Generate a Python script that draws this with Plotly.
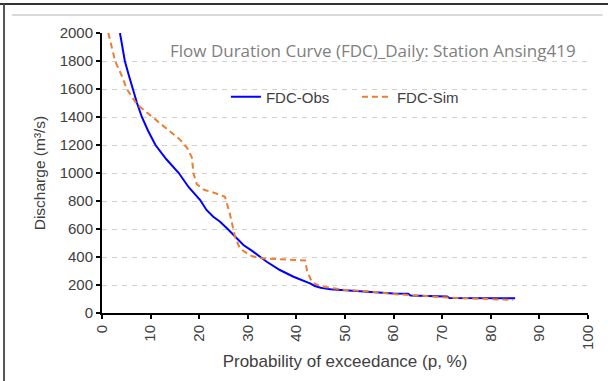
import plotly.graph_objects as go

# Observed flow duration curve
p_obs = [3.7, 4.7, 5.5, 6.3, 7.2, 8.2, 9.5, 11.0, 13.2, 15.8, 17.8, 20.2, 21.5, 22.9, 24.3, 25.7,
         27.0, 29.1, 31.1, 33.9, 36.6, 39.4, 42.8, 43.8, 45, 47, 50, 53, 57, 60, 63, 63.5,
         67, 71, 71.5, 78, 85]
q_obs = [2000, 1800, 1700, 1600, 1500, 1400, 1300, 1200, 1100, 1000, 900, 807, 736, 688, 652, 605,
         557, 486, 438, 366, 307, 259, 212, 193, 180, 170, 162, 155, 145, 140, 138, 125,
         122, 118, 107, 105, 105]

# Simulated flow duration curve
p_sim = [1.3, 2.7, 4.0, 5.1, 7.2, 10.3, 13.4, 16, 17.5, 18.5, 18.8, 19.5, 21, 23, 25.3,
         26.3, 27.4, 28.4, 30.5, 33, 36, 39, 41.8, 42.2, 43.2, 45, 50, 55, 60, 65, 70, 75, 80, 84.6]
q_sim = [2000, 1800, 1700, 1600, 1490, 1400, 1310, 1240, 1180, 1110, 1000, 920, 880, 860, 830,
         710, 540, 460, 410, 390, 385, 380, 375, 300, 220, 190, 165, 155, 135, 125, 112, 105, 100, 93]

x_ticks = list(range(0, 101, 10))
y_ticks = list(range(0, 2001, 200))

title_text = "Flow Duration Curve (FDC)_Daily: Station Ansing419"

fig = go.Figure()
fig.add_trace(go.Scatter(x=p_obs, y=q_obs, mode="lines", name="FDC-Obs",
                         line=dict(color="#0000FF", width=2)))
fig.add_trace(go.Scatter(x=p_sim, y=q_sim, mode="lines", name="FDC-Sim",
                         line=dict(color="#ED7D31", width=2, dash="6px,4px")))

base_font = "Liberation Sans, Arial, sans-serif"

fig.update_layout(
    width=608, height=381,
    margin=dict(l=102, r=20, t=33, b=68),
    paper_bgcolor="white", plot_bgcolor="white",
    font=dict(family=base_font, size=15, color="#404040"),
    showlegend=True,
    legend=dict(orientation="h", x=0.255, y=0.771, xanchor="left", yanchor="middle",
                bgcolor="rgba(0,0,0,0)", font=dict(family=base_font, size=15, color="#404040"),
                entrywidth=86, itemwidth=30),
    xaxis=dict(range=[0, 100], tickvals=x_ticks, ticktext=[str(v) for v in x_ticks],
               tickangle=-90, showgrid=False, zeroline=False,
               showline=True, linecolor="black", linewidth=2,
               ticks="outside", ticklen=4, tickcolor="black", tickwidth=1.5,
               tickfont=dict(size=15),
               title=dict(text="Probability of exceedance (p, %)", standoff=6,
                          font=dict(size=17, color="#404040"))),
    yaxis=dict(range=[0, 2000], tickvals=y_ticks, ticktext=[str(v) for v in y_ticks],
               showgrid=True, gridcolor="#d0d0d0", gridwidth=1, griddash="5px,5px",
               zeroline=False, showline=True, linecolor="black", linewidth=2,
               ticks="outside", ticklen=4, tickcolor="black", tickwidth=1.5,
               tickfont=dict(size=15),
               title=dict(text="Discharge (m\u00b3/s)", standoff=10,
                          font=dict(size=15.5, color="#404040"))),
)

fig.add_annotation(text=title_text, xref="paper", yref="paper", x=0.979, y=0.939,
                   xanchor="right", yanchor="middle", showarrow=False,
                   font=dict(family="Open Sans, Lato, sans-serif", size=17, color="#7f7f7f"))

# Outer frame lines (chart area border, cropped)
fig.add_shape(type="line", xref="paper", yref="paper", x0=-0.22, x1=1.05, y0=1.1036, y1=1.1036,
              line=dict(color="#333333", width=2))
fig.add_shape(type="line", xref="paper", yref="paper", x0=-0.2016, x1=-0.2016, y0=-0.25, y1=1.1036,
              line=dict(color="#555555", width=2))
fig.add_shape(type="line", xref="paper", yref="paper", x0=-0.185, x1=1.03, y0=1.064, y1=1.064,
              line=dict(color="#d9d9d9", width=2))

fig.write_html("out.html", config={"displayModeBar": False},
               post_script="document.body.style.margin='0';")
